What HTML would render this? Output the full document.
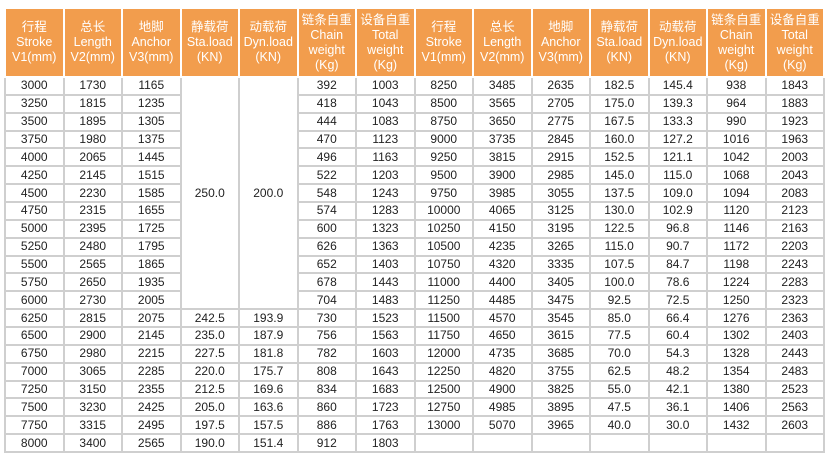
<!DOCTYPE html>
<html><head><meta charset="utf-8"><style>
html,body{margin:0;padding:0;background:#fff;width:827px;height:457px;overflow:hidden}
table{position:absolute;left:4px;top:7px;width:819px;border-collapse:collapse;table-layout:fixed;font-family:"Liberation Sans","Noto Sans CJK SC",sans-serif}
th{background:#f29d4d;color:#fff;font-weight:normal;font-size:12.5px;line-height:15px;height:67px;border:2px solid #fff;padding:0;vertical-align:middle}
td{height:15.86px;border:2px solid #cfcfcf;font-size:12px;color:#222;text-align:center;padding:0;line-height:15px}
td.o{border-left:2px solid #f08a2c}
</style></head><body>
<table>
<colgroup><col span="14" style="width:58.5px"></colgroup>
<tr>
<th>行程<br>Stroke<br>V1(mm)</th><th>总长<br>Length<br>V2(mm)</th><th>地脚<br>Anchor<br>V3(mm)</th><th>静载荷<br>Sta.load<br>(KN)</th><th>动载荷<br>Dyn.load<br>(KN)</th><th>链条自重<br>Chain<br>weight<br>(Kg)</th><th>设备自重<br>Total<br>weight<br>(Kg)</th>
<th>行程<br>Stroke<br>V1(mm)</th><th>总长<br>Length<br>V2(mm)</th><th>地脚<br>Anchor<br>V3(mm)</th><th>静载荷<br>Sta.load<br>(KN)</th><th>动载荷<br>Dyn.load<br>(KN)</th><th>链条自重<br>Chain<br>weight<br>(Kg)</th><th>设备自重<br>Total<br>weight<br>(Kg)</th>
</tr>
<tr><td>3000</td><td>1730</td><td>1165</td><td rowspan="13">250.0</td><td rowspan="13">200.0</td><td>392</td><td>1003</td><td class="o">8250</td><td>3485</td><td>2635</td><td>182.5</td><td>145.4</td><td>938</td><td>1843</td></tr>
<tr><td>3250</td><td>1815</td><td>1235</td><td>418</td><td>1043</td><td class="o">8500</td><td>3565</td><td>2705</td><td>175.0</td><td>139.3</td><td>964</td><td>1883</td></tr>
<tr><td>3500</td><td>1895</td><td>1305</td><td>444</td><td>1083</td><td class="o">8750</td><td>3650</td><td>2775</td><td>167.5</td><td>133.3</td><td>990</td><td>1923</td></tr>
<tr><td>3750</td><td>1980</td><td>1375</td><td>470</td><td>1123</td><td class="o">9000</td><td>3735</td><td>2845</td><td>160.0</td><td>127.2</td><td>1016</td><td>1963</td></tr>
<tr><td>4000</td><td>2065</td><td>1445</td><td>496</td><td>1163</td><td class="o">9250</td><td>3815</td><td>2915</td><td>152.5</td><td>121.1</td><td>1042</td><td>2003</td></tr>
<tr><td>4250</td><td>2145</td><td>1515</td><td>522</td><td>1203</td><td class="o">9500</td><td>3900</td><td>2985</td><td>145.0</td><td>115.0</td><td>1068</td><td>2043</td></tr>
<tr><td>4500</td><td>2230</td><td>1585</td><td>548</td><td>1243</td><td class="o">9750</td><td>3985</td><td>3055</td><td>137.5</td><td>109.0</td><td>1094</td><td>2083</td></tr>
<tr><td>4750</td><td>2315</td><td>1655</td><td>574</td><td>1283</td><td class="o">10000</td><td>4065</td><td>3125</td><td>130.0</td><td>102.9</td><td>1120</td><td>2123</td></tr>
<tr><td>5000</td><td>2395</td><td>1725</td><td>600</td><td>1323</td><td class="o">10250</td><td>4150</td><td>3195</td><td>122.5</td><td>96.8</td><td>1146</td><td>2163</td></tr>
<tr><td>5250</td><td>2480</td><td>1795</td><td>626</td><td>1363</td><td class="o">10500</td><td>4235</td><td>3265</td><td>115.0</td><td>90.7</td><td>1172</td><td>2203</td></tr>
<tr><td>5500</td><td>2565</td><td>1865</td><td>652</td><td>1403</td><td class="o">10750</td><td>4320</td><td>3335</td><td>107.5</td><td>84.7</td><td>1198</td><td>2243</td></tr>
<tr><td>5750</td><td>2650</td><td>1935</td><td>678</td><td>1443</td><td class="o">11000</td><td>4400</td><td>3405</td><td>100.0</td><td>78.6</td><td>1224</td><td>2283</td></tr>
<tr><td>6000</td><td>2730</td><td>2005</td><td>704</td><td>1483</td><td class="o">11250</td><td>4485</td><td>3475</td><td>92.5</td><td>72.5</td><td>1250</td><td>2323</td></tr>
<tr><td>6250</td><td>2815</td><td>2075</td><td>242.5</td><td>193.9</td><td>730</td><td>1523</td><td class="o">11500</td><td>4570</td><td>3545</td><td>85.0</td><td>66.4</td><td>1276</td><td>2363</td></tr>
<tr><td>6500</td><td>2900</td><td>2145</td><td>235.0</td><td>187.9</td><td>756</td><td>1563</td><td class="o">11750</td><td>4650</td><td>3615</td><td>77.5</td><td>60.4</td><td>1302</td><td>2403</td></tr>
<tr><td>6750</td><td>2980</td><td>2215</td><td>227.5</td><td>181.8</td><td>782</td><td>1603</td><td class="o">12000</td><td>4735</td><td>3685</td><td>70.0</td><td>54.3</td><td>1328</td><td>2443</td></tr>
<tr><td>7000</td><td>3065</td><td>2285</td><td>220.0</td><td>175.7</td><td>808</td><td>1643</td><td class="o">12250</td><td>4820</td><td>3755</td><td>62.5</td><td>48.2</td><td>1354</td><td>2483</td></tr>
<tr><td>7250</td><td>3150</td><td>2355</td><td>212.5</td><td>169.6</td><td>834</td><td>1683</td><td class="o">12500</td><td>4900</td><td>3825</td><td>55.0</td><td>42.1</td><td>1380</td><td>2523</td></tr>
<tr><td>7500</td><td>3230</td><td>2425</td><td>205.0</td><td>163.6</td><td>860</td><td>1723</td><td class="o">12750</td><td>4985</td><td>3895</td><td>47.5</td><td>36.1</td><td>1406</td><td>2563</td></tr>
<tr><td>7750</td><td>3315</td><td>2495</td><td>197.5</td><td>157.5</td><td>886</td><td>1763</td><td class="o">13000</td><td>5070</td><td>3965</td><td>40.0</td><td>30.0</td><td>1432</td><td>2603</td></tr>
<tr><td>8000</td><td>3400</td><td>2565</td><td>190.0</td><td>151.4</td><td>912</td><td>1803</td><td class="o"></td><td></td><td></td><td></td><td></td><td></td><td></td></tr>
</table>
</body></html>
